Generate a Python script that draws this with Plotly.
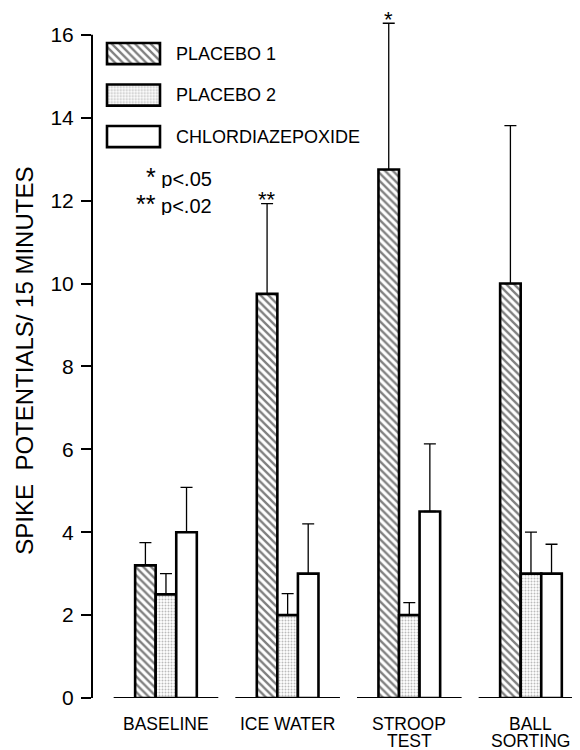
import plotly.graph_objects as go

# ---------------- data ----------------
categories = ["BASELINE", "ICE WATER", "STROOP\nTEST", "BALL\nSORTING"]
series_names = ["PLACEBO 1", "PLACEBO 2", "CHLORDIAZEPOXIDE"]
placebo1 = [3.2, 9.75, 12.75, 10.0]
placebo1_err = [0.55, 2.18, 3.53, 3.81]
placebo2 = [2.5, 2.0, 2.0, 3.0]
placebo2_err = [0.5, 0.52, 0.3, 1.0]
chlordiazepoxide = [4.0, 3.0, 4.5, 3.0]
chlordiazepoxide_err = [1.08, 1.2, 1.63, 0.71]
significance = ["", "**", "*", ""]
y_ticks = [0, 2, 4, 6, 8, 10, 12, 14, 16]
note_stars = ["*", "**"]
note_texts = ["p&lt;.05", "p&lt;.02"]
y_title = "SPIKE\u00a0\u00a0POTENTIALS/ 15 MINUTES"

FONT = "Liberation Sans"
OFF = 8  # page body margin
W, H = 580 - OFF, 750 - OFF
ML, MR, MT, MB = 92 - OFF, 0, 2.0, 750 - 697.7
PW, PH = W - ML - MR, H - MT - MB


def px2x(page_px):
    return (page_px - OFF - ML) / PW


def py2y(page_py):
    return (H - MB - (page_py - OFF)) / PH


BARGAP = 0.493
bar_w = (1 - BARGAP) / 3
xs = list(range(len(categories)))

styles = [
    dict(color="white", line=dict(color="black", width=2.6),
         pattern=dict(shape="\\", size=5.5, solidity=0.42, fgcolor="black", bgcolor="white", fillmode="overlay")),
    dict(color="white", line=dict(color="black", width=2.6),
         pattern=dict(shape=".", size=3, solidity=0.35, fgcolor="#777777", bgcolor="white", fillmode="overlay")),
    dict(color="white", line=dict(color="black", width=2.6)),
]
values = [placebo1, placebo2, chlordiazepoxide]
errors = [placebo1_err, placebo2_err, chlordiazepoxide_err]

fig = go.Figure()
for name, vals, errs, st in zip(series_names, values, errors, styles):
    fig.add_trace(go.Bar(
        x=xs, y=vals, name=name, marker=st, showlegend=False,
        error_y=dict(type="data", symmetric=False, array=errs, arrayminus=[0] * len(errs),
                     color="black", thickness=1.3, width=6),
    ))

# custom legend boxes (second axis pair)
for k, (name, st) in enumerate(zip(series_names, styles)):
    fig.add_trace(go.Bar(
        x=[1], y=[k], base=[0], orientation="h", width=0.51, marker=st,
        xaxis="x2", yaxis="y2", showlegend=False, hoverinfo="skip",
    ))
    fig.add_annotation(x=px2x(174), y=k, xref="paper", yref="y2", text=name,
                       xanchor="left", yanchor="middle", showarrow=False,
                       font=dict(family=FONT, size=18, color="black"))

leg_pitch = 41.5
leg_c0 = 53.5
leg_top = leg_c0 - 0.6 * leg_pitch
leg_bot = leg_c0 + 2.6 * leg_pitch
box_l, box_r = 107, 160
unit = box_r - box_l

# ground segments per group + y axis line
shapes = []
for i in xs:
    shapes.append(dict(type="line", xref="x", yref="y", x0=i - 0.43, x1=i + 0.43, y0=0, y1=0,
                       line=dict(color="black", width=2)))
shapes.append(dict(type="line", xref="paper", yref="y", x0=0, x1=0, y0=0, y1=y_ticks[-1],
                   line=dict(color="black", width=2)))

# category labels (multi-line with tight spacing)
for i, lab in enumerate(categories):
    for j, line in enumerate(lab.split("\n")):
        fig.add_annotation(x=i, y=0, xref="x", yref="y", text=line, showarrow=False,
                           xanchor="center", yanchor="top", yshift=-17.0 - 16.6 * j,
                           height=15, borderpad=0, valign="middle",
                           font=dict(family=FONT, size=17.5, color="black"))

# significance marks
for i, s in enumerate(significance):
    if s:
        fig.add_annotation(x=i - bar_w, y=placebo1[i] + placebo1_err[i], xref="x", yref="y",
                           text=s, showarrow=False, xanchor="center", yanchor="bottom", yshift=-3.5,
                           borderpad=0, height=14, valign="middle",
                           font=dict(family=FONT, size=22, color="black"))

# p-value notes
for j, (st, t) in enumerate(zip(note_stars, note_texts)):
    fig.add_annotation(x=px2x(213), y=py2y(177 + 27 * j), xref="paper", yref="paper",
                       text="<span style='font-size:25px'>" + st + "</span>\u00a0" + t,
                       showarrow=False, xanchor="right", yanchor="middle",
                       height=22, borderpad=0, valign="middle",
                       font=dict(family=FONT, size=20, color="black"))

# y-axis title
fig.add_annotation(x=px2x(24.5), y=py2y(361), xref="paper", yref="paper",
                   text=y_title, textangle=-90, showarrow=False,
                   xanchor="center", yanchor="middle",
                   font=dict(family=FONT, size=24, color="black"))

fig.update_layout(
    width=W, height=H, margin=dict(l=ML, r=MR, t=MT, b=MB),
    paper_bgcolor="white", plot_bgcolor="white",
    barmode="group", bargap=BARGAP, bargroupgap=0,
    shapes=shapes,
    xaxis=dict(range=[-0.608, 3.403], visible=False),
    yaxis=dict(range=[0, 16.6], tickvals=y_ticks, ticks="outside", ticklen=10, tickwidth=2,
               tickcolor="black", showgrid=False, zeroline=False, showline=False,
               ticklabelstandoff=3,
               tickfont=dict(family=FONT, size=21, color="black")),
    xaxis2=dict(range=[-0.05, 1.05], visible=False, anchor="y2",
                domain=[px2x(box_l - 0.05 * unit), px2x(box_r + 0.05 * unit)]),
    yaxis2=dict(range=[2.6, -0.6], visible=False, anchor="x2",
                domain=[py2y(leg_bot), py2y(leg_top)]),
)

fig.write_html("out.html")
